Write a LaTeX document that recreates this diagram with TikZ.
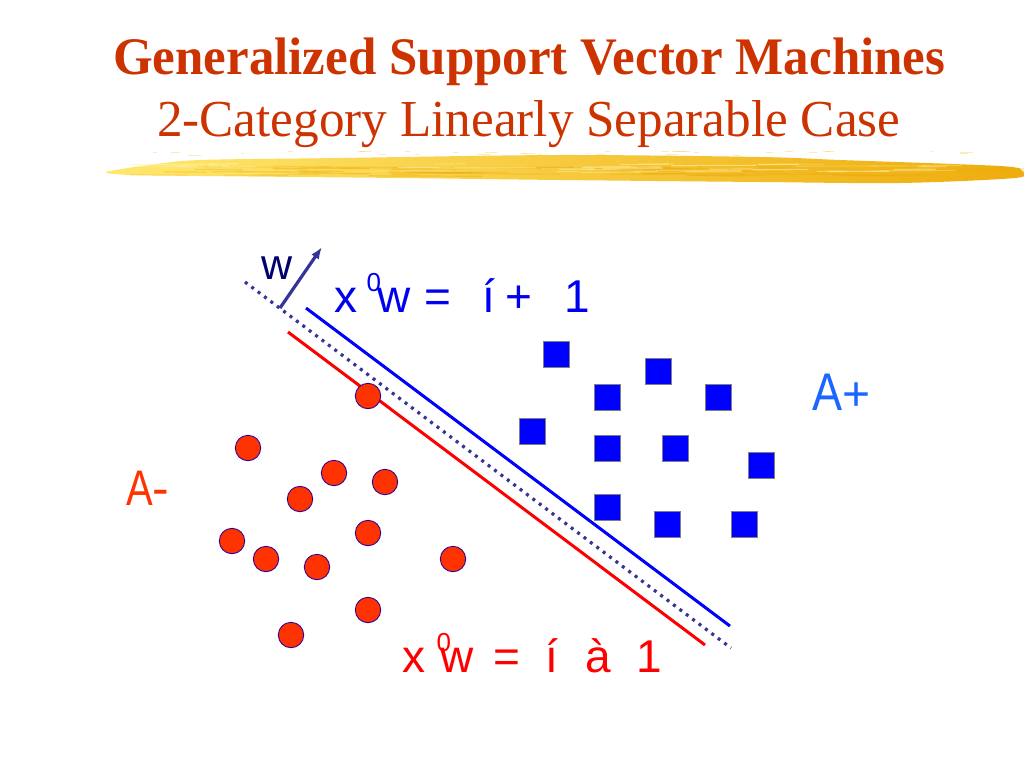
\documentclass[tikz,border=0pt]{standalone}
\usepackage{fontspec}
\setmainfont{Liberation Serif}
\newfontfamily\lsans{Liberation Sans}
\usepackage{graphicx}
\usetikzlibrary{arrows.meta}
\definecolor{titlered}{RGB}{204,51,0}
\definecolor{ptred}{RGB}{255,51,0}
\definecolor{ptedge}{RGB}{51,0,153}
\definecolor{sqblue}{RGB}{0,0,255}
\definecolor{sqedge}{RGB}{128,128,128}
\definecolor{navy}{RGB}{51,51,153}
\definecolor{wnavy}{RGB}{0,0,110}
\definecolor{eqblue}{RGB}{0,0,240}
\definecolor{eqred}{RGB}{255,0,0}
\definecolor{aplus}{RGB}{26,102,255}
\definecolor{aminus}{RGB}{255,51,0}
\definecolor{brushA}{RGB}{255,232,110}
\definecolor{brushB}{RGB}{248,204,50}
\definecolor{brushC}{RGB}{238,172,12}
\definecolor{brushL}{RGB}{255,244,170}
\newcommand{\placeat}[2]{\makebox[0pt][l]{\hspace*{#1}#2}}
\begin{document}
\begin{tikzpicture}[x=1pt,y=-1pt,
  titletext/.style={inner sep=0pt, anchor=base west, text=titlered},
  eqtext/.style={inner sep=0pt, anchor=base west, font=\lsans\fontsize{46}{46}\selectfont},
  pointA/.style={circle, minimum size=25.4pt, inner sep=0pt, fill=ptred, draw=ptedge, line width=0.9pt},
  pointB/.style={rectangle, minimum size=26pt, inner sep=0pt, fill=sqblue, draw=sqedge, line width=0.9pt},
  bluebound/.style={draw=blue, line width=3pt},
  redbound/.style={draw=red, line width=3pt},
  sepline/.style={draw=navy, line width=3.2pt, dash pattern=on 3pt off 5pt},
  warrow/.style={draw=navy, line width=3.2pt, -{Latex[length=12pt,width=9pt]}},
  setlabel/.style={inner sep=0pt, anchor=base west, font=\lsans},
  streak/.style={line width=1.2pt, line cap=round}
]
\fill[white] (0,0) rectangle (1024,768);
\useasboundingbox (0,0) rectangle (1024,768);

% brush stroke
\shade[left color=brushA, middle color=brushB, right color=brushC]
  plot[smooth cycle, tension=0.5] coordinates {(106,172) (150,165) (200,160) (340,158) (560,155) (760,157) (840,160) (1000,166) (1022,171) (1015,178) (900,183) (760,182) (560,180) (400,178) (200,176) (130,175)};
\pgfmathsetseed{11}
\foreach \i in {1,...,70} {
  \pgfmathsetmacro\xa{130+850*rnd}
  \pgfmathsetmacro\ya{166+10*rnd}
  \pgfmathsetmacro\ln{25+90*rnd}
  \pgfmathsetmacro\op{0.15+0.35*rnd}
  \draw[streak, brushC, opacity=\op] (\xa,\ya) -- ++(\ln,0.4);
}
\foreach \i in {1,...,40} {
  \pgfmathsetmacro\xa{130+800*rnd}
  \pgfmathsetmacro\ya{164+10*rnd}
  \pgfmathsetmacro\ln{20+70*rnd}
  \pgfmathsetmacro\op{0.2+0.4*rnd}
  \draw[streak, brushL, opacity=\op] (\xa,\ya) -- ++(\ln,-0.3);
}
\foreach \i in {1,...,35} {
  \pgfmathsetmacro\xa{150+850*rnd}
  \pgfmathsetmacro\ya{151+5*rnd}
  \pgfmathsetmacro\ln{3+10*rnd}
  \draw[line width=1pt, brushB, opacity=0.35] (\xa,\ya) -- ++(\ln,0);
}

% title
\node[titletext] (t1) at (113,74.3) {\resizebox{832pt}{36.6pt}{\bfseries Generalized Support Vector Machines}};
\node[titletext] (t2) at (157,136) {\resizebox{743pt}{36pt}{2-Category Linearly Separable Case}};

% lines
\coordinate (dS) at (245,282); \coordinate (dE) at (731,648);
\coordinate (bS) at (306,308); \coordinate (bE) at (730,626);
\coordinate (rS) at (288,332); \coordinate (rE) at (705,645);
\draw[sepline] (dS) -- (dE);
\draw[bluebound] (bS) -- (bE);
\draw[redbound] (rS) -- (rE);

% normal vector
\coordinate (wS) at (280,308); \coordinate (wE) at (322,247);
\draw[warrow] (wS) -- (wE);
\node[inner sep=0pt, anchor=base, text=wnavy, font=\lsans\fontsize{43}{43}\selectfont] (wlab) at (277,279) {w};

% equations
\node[eqtext, text=eqblue] (eqp) at (334,312) {\placeat{0pt}{x}\placeat{32pt}{\raisebox{21pt}{\fontsize{26}{26}\selectfont 0}}\placeat{43pt}{w}\placeat{90pt}{=}\placeat{148pt}{í}\placeat{171pt}{+}\placeat{230pt}{1}};
\node[eqtext, text=eqred] (eqm) at (402,672) {\placeat{0pt}{x}\placeat{34pt}{\raisebox{21pt}{\fontsize{26}{26}\selectfont 0}}\placeat{38pt}{w}\placeat{91pt}{=}\placeat{143pt}{í}\placeat{183pt}{à}\placeat{234pt}{1}};

% set labels
\node[setlabel, text=aplus] (Ap) at (812,410) {\scalebox{0.85}[1]{\fontsize{53}{53}\selectfont A}\fontsize{48}{48}\selectfont +};
\node[setlabel, text=aminus] (Am) at (126,505) {\scalebox{0.8}[1]{\fontsize{50}{50}\selectfont A}\fontsize{50}{50}\selectfont -};

% class A- points
\node[pointA] (c1) at (368,396) {};
\node[pointA] (c2) at (248,448) {};
\node[pointA] (c3) at (334,473) {};
\node[pointA] (c4) at (385,482) {};
\node[pointA] (c5) at (300,499) {};
\node[pointA] (c6) at (368,533) {};
\node[pointA] (c7) at (232,541) {};
\node[pointA] (c8) at (266,559) {};
\node[pointA] (c9) at (317,567) {};
\node[pointA] (c10) at (453,559) {};
\node[pointA] (c11) at (368,610) {};
\node[pointA] (c12) at (291,635) {};

% class A+ points
\node[pointB] (s1) at (556,354) {};
\node[pointB] (s2) at (658,371) {};
\node[pointB] (s3) at (607,397) {};
\node[pointB] (s4) at (718,397) {};
\node[pointB] (s5) at (532,431) {};
\node[pointB] (s6) at (607,448) {};
\node[pointB] (s7) at (675,448) {};
\node[pointB] (s8) at (761,465) {};
\node[pointB] (s9) at (607,507) {};
\node[pointB] (s10) at (667,524) {};
\node[pointB] (s11) at (744,524) {};
\end{tikzpicture}
\end{document}
